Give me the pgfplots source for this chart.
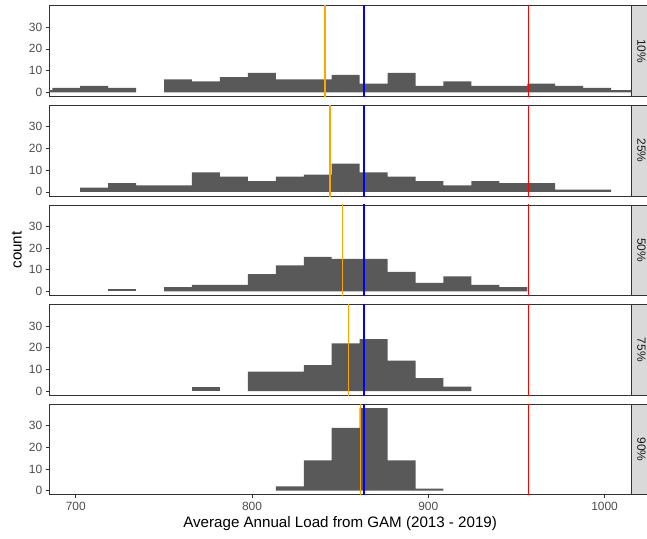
\documentclass[border=0pt]{standalone}
\usepackage{pgfplots}
\pgfplotsset{compat=1.18}
\usepackage{fontspec}
\setmainfont{Liberation Sans}
\definecolor{grey20}{HTML}{333333}
\definecolor{grey30}{HTML}{4D4D4D}
\definecolor{grey10}{HTML}{1A1A1A}
\definecolor{grey85}{HTML}{D9D9D9}
\definecolor{grey35}{HTML}{595959}
\definecolor{ggorange}{HTML}{FFA500}
\definecolor{ggblue}{HTML}{0000FF}
\definecolor{ggred}{HTML}{FF0000}
\pgfplotsset{
  facet/.style={
    scale only axis, width=581.7bp, height=90.7bp,
    anchor=north west,
    xmin=685, xmax=1015, ymin=-1.9, ymax=39.9,
    axis line style={draw=grey20, line width=0.75bp},
    ytick={0,10,20,30},
    xtick={700,800,900,1000},
    tick pos=left,
    tick align=outside,
    major tick length=3.6bp,
    tick style={draw=grey20, line width=0.75bp},
    ticklabel style={font=\fontsize{12}{14}\selectfont, text=grey30},
    /pgf/number format/assume math mode=true,
    /pgf/number format/1000 sep={},
  },
  notx/.style={xtick=\empty},
  hist/.style={ybar interval, fill=grey35, draw=none},
  vl/.style={line width=1.3bp},
}
\newcommand{\strip}[2]{%
  \draw[grey20, line width=0.75bp, fill=grey85] (#1.north east) rectangle ([xshift=20bp]#1.south east);
  \node[rotate=-90, text=grey10, font=\fontsize{12}{14}\selectfont] at ([xshift=10.5bp]#1.east) {#2};
}
\begin{document}
\begin{tikzpicture}
\clip (0,0) rectangle (647bp,-539bp);
\useasboundingbox (0,0) rectangle (647bp,-539bp);

% 10%
\begin{axis}[facet, notx, name=p1, at={(49.3bp,-5.7bp)}]
\addplot[hist] coordinates {(670.85,1) (686.70,2) (702.55,3) (718.40,2) (734.25,2)};
\addplot[hist] coordinates {(750.10,6) (765.95,5) (781.80,7) (797.65,9) (813.50,6) (829.35,6) (845.20,8) (861.05,4) (876.90,9) (892.75,3) (908.60,5) (924.45,3) (940.30,3) (956.15,4) (972.00,3) (987.85,2) (1003.70,1) (1019.55,1)};
\addplot[vl, ggorange] coordinates {(841.4,-5) (841.4,45)};
\addplot[vl, ggblue] coordinates {(863.5,-5) (863.5,45)};
\addplot[vl, ggred] coordinates {(956.7,-5) (956.7,45)};
\end{axis}
\strip{p1}{10\%}

% 25%
\begin{axis}[facet, notx, name=p2, at={(49.3bp,-105.3bp)}]
\addplot[hist] coordinates {(702.55,2) (718.40,4) (734.25,3) (750.10,3) (765.95,9) (781.80,7) (797.65,5) (813.50,7) (829.35,8) (845.20,13) (861.05,9) (876.90,7) (892.75,5) (908.60,3) (924.45,5) (940.30,4) (956.15,4) (972.00,1) (987.85,1) (1003.70,1)};
\addplot[vl, ggorange] coordinates {(844.2,-5) (844.2,45)};
\addplot[vl, ggblue] coordinates {(863.5,-5) (863.5,45)};
\addplot[vl, ggred] coordinates {(956.7,-5) (956.7,45)};
\end{axis}
\strip{p2}{25\%}

% 50%
\begin{axis}[facet, notx, name=p3, at={(49.3bp,-204.9bp)}]
\addplot[hist] coordinates {(718.40,1) (734.25,1)};
\addplot[hist] coordinates {(750.10,2) (765.95,3) (781.80,3) (797.65,8) (813.50,12) (829.35,16) (845.20,15) (861.05,15) (876.90,9) (892.75,4) (908.60,7) (924.45,3) (940.30,2) (956.15,2)};
\addplot[vl, ggorange] coordinates {(851.4,-5) (851.4,45)};
\addplot[vl, ggblue] coordinates {(863.5,-5) (863.5,45)};
\addplot[vl, ggred] coordinates {(956.7,-5) (956.7,45)};
\end{axis}
\strip{p3}{50\%}

% 75%
\begin{axis}[facet, notx, name=p4, at={(49.3bp,-304.5bp)}]
\addplot[hist] coordinates {(765.95,2) (781.80,2)};
\addplot[hist] coordinates {(797.65,9) (813.50,9) (829.35,12) (845.20,22) (861.05,24) (876.90,14) (892.75,6) (908.60,2) (924.45,2)};
\addplot[vl, ggorange] coordinates {(854.6,-5) (854.6,45)};
\addplot[vl, ggblue] coordinates {(863.5,-5) (863.5,45)};
\addplot[vl, ggred] coordinates {(956.7,-5) (956.7,45)};
\end{axis}
\strip{p4}{75\%}

% 90%
\begin{axis}[facet, name=p5, at={(49.3bp,-404.1bp)}]
\addplot[hist] coordinates {(813.50,2) (829.35,14) (845.20,29) (861.05,38) (876.90,14) (892.75,1) (908.60,1)};
\addplot[vl, ggorange] coordinates {(861.6,-5) (861.6,45)};
\addplot[vl, ggblue] coordinates {(863.5,-5) (863.5,45)};
\addplot[vl, ggred] coordinates {(956.7,-5) (956.7,45)};
\end{axis}
\strip{p5}{90\%}

\node[font=\fontsize{15.2}{17}\selectfont, text=black] at (340.15bp,-523.5bp) {Average Annual Load from GAM (2013 - 2019)};
\node[rotate=90, font=\fontsize{15.2}{17}\selectfont, text=black] at (16.7bp,-250bp) {count};
\end{tikzpicture}
\end{document}
